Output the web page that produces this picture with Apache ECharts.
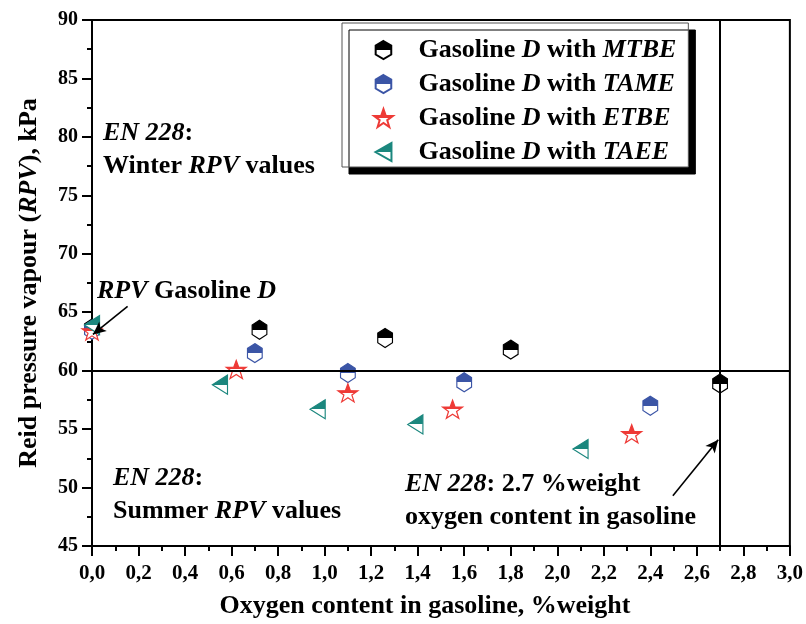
<!DOCTYPE html>
<html>
<head>
<meta charset="utf-8">
<script src="https://cdn.jsdelivr.net/npm/echarts@6/dist/echarts.min.js"></script>
<style>
  html, body { margin: 0; padding: 0; background: #fff; }
  #chart { width: 806px; height: 624px; }
</style>
</head>
<body>
<div id="chart"></div>
<script>
// Oxygen content (%weight) and Reid vapour pressure (kPa) for each blend
const oxygenMTBE = [0, 0.72, 1.26, 1.80, 2.70];
const rpvMTBE    = [63.6, 63.5, 62.8, 61.8, 58.9];
const oxygenTAME = [0, 0.70, 1.10, 1.60, 2.40];
const rpvTAME    = [63.5, 61.5, 59.8, 59.0, 57.0];
const oxygenETBE = [0, 0.62, 1.10, 1.55, 2.32];
const rpvETBE    = [63.4, 60.1, 58.1, 56.7, 54.6];
const oxygenTAEE = [0, 0.55, 0.97, 1.39, 2.10];
const rpvTAEE    = [63.9, 58.8, 56.7, 55.4, 53.3];

const additives = ['MTBE', 'TAME', 'ETBE', 'TAEE'];
const xTickValues = [0, 0.2, 0.4, 0.6, 0.8, 1.0, 1.2, 1.4, 1.6, 1.8, 2.0, 2.2, 2.4, 2.6, 2.8, 3.0];
const yTickValues = [45, 50, 55, 60, 65, 70, 75, 80, 85, 90];

// EN 228 limits
const summerRpvLimit = 60;
const oxygenLimit = 2.7;

const FONT = 'Liberation Serif';

function halfFill(color) {
  return {
    type: 'linear', x: 0, y: 0, x2: 0, y2: 1,
    colorStops: [
      { offset: 0, color: color },
      { offset: 0.5, color: color },
      { offset: 0.5, color: '#ffffff' },
      { offset: 1, color: '#ffffff' }
    ]
  };
}

const HEXAGON = 'path://M0,-10 L8.66,-5 L8.66,5 L0,10 L-8.66,5 L-8.66,-5 Z';
const STAR = 'path://M0,-10 L2.35,-3.24 L9.51,-3.09 L3.8,1.24 L5.88,8.09 L0,4 L-5.88,8.09 L-3.8,1.24 L-9.51,-3.09 L-2.35,-3.24 Z';
const LEFT_TRIANGLE = 'path://M0,9 L16,0 L16,18 Z';

const styles = {
  MTBE: { color: '#000000', symbol: HEXAGON, size: [17, 19] },
  TAME: { color: '#3b55a6', symbol: HEXAGON, size: [17, 19] },
  ETBE: { color: '#ee3a36', symbol: STAR, size: [20, 19] },
  TAEE: { color: '#1b877e', symbol: LEFT_TRIANGLE, size: [17, 19] }
};

const seriesData = {
  MTBE: [oxygenMTBE, rpvMTBE],
  TAME: [oxygenTAME, rpvTAME],
  ETBE: [oxygenETBE, rpvETBE],
  TAEE: [oxygenTAEE, rpvTAEE]
};

function pairs(xs, ys) { return xs.map((x, i) => [x, ys[i]]); }

const series = additives.map(a => ({
  name: 'Gasoline D with ' + a,
  type: 'scatter',
  data: pairs(seriesData[a][0], seriesData[a][1]),
  symbol: styles[a].symbol,
  symbolSize: styles[a].size,
  symbolKeepAspect: true,
  itemStyle: {
    color: halfFill(styles[a].color),
    borderColor: styles[a].color,
    borderWidth: 1.2,
    opacity: 1
  },
  emphasis: { disabled: true },
  z: 3
}));

// Reference limits and annotation arrows
series.push({
  type: 'scatter',
  data: [],
  silent: true,
  markLine: {
    silent: true,
    symbol: ['none', 'none'],
    label: { show: false },
    lineStyle: { color: '#000', width: 2, type: 'solid' },
    emphasis: { disabled: true },
    data: [{ yAxis: summerRpvLimit }, { xAxis: oxygenLimit }]
  }
});
series.push({
  type: 'scatter',
  data: [],
  silent: true,
  markLine: {
    silent: true,
    symbol: ['none', 'arrow'],
    symbolSize: [9, 13],
    label: { show: false },
    lineStyle: { color: '#000', width: 1.6, type: 'solid' },
    emphasis: { disabled: true },
    data: [
      [{ coord: [0.153, 65.5] }, { coord: [0.004, 63.1] }],
      [{ coord: [2.497, 49.3] }, { coord: [2.692, 54.1] }]
    ]
  }
});

const txtRich = {
  r: { fontFamily: FONT, fontWeight: 'bold', fontSize: 26, color: '#000', lineHeight: 33 },
  i: { fontFamily: FONT, fontWeight: 'bold', fontStyle: 'italic', fontSize: 26, color: '#000', lineHeight: 33 }
};

function note(left, top, text) {
  return { type: 'text', left: left, top: top, z: 10, silent: true,
           style: { text: text, rich: txtRich, fill: '#000' } };
}

const option = {
  animation: false,
  backgroundColor: '#ffffff',
  grid: {
    left: 92, right: 16, top: 20, bottom: 77,
    show: true, borderColor: '#000', borderWidth: 2, backgroundColor: 'transparent'
  },
  legend: {
    orient: 'vertical',
    left: 342, top: 23,
    padding: [14, 12, 2, 31],
    itemGap: 8,
    itemWidth: 60,
    itemHeight: 18,
    backgroundColor: '#ffffff',
    borderColor: '#555',
    borderWidth: 1,
    shadowColor: '#000',
    shadowBlur: 0,
    shadowOffsetX: 7,
    shadowOffsetY: 7,
    selectedMode: false,
    data: additives.map(a => 'Gasoline D with ' + a),
    formatter: name => '{r|Gasoline }{i|D}{r| with }{i|' + name.split(' ').pop() + '}',
    textStyle: { rich: {
      r: { fontFamily: FONT, fontWeight: 'bold', fontSize: 26, color: '#000', lineHeight: 26 },
      i: { fontFamily: FONT, fontWeight: 'bold', fontStyle: 'italic', fontSize: 26, color: '#000', lineHeight: 26 }
    } }
  },
  xAxis: {
    type: 'value',
    min: xTickValues[0],
    max: xTickValues[xTickValues.length - 1],
    interval: 0.2,
    name: 'Oxygen content in gasoline, %weight',
    nameLocation: 'middle',
    nameGap: 47,
    nameTextStyle: { fontFamily: FONT, fontWeight: 'bold', fontSize: 26, color: '#000', padding: [0, 32, 0, 0] },
    axisLine: { show: true, onZero: false, lineStyle: { color: '#000', width: 2 } },
    axisTick: { show: true, inside: false, length: 10, lineStyle: { color: '#000', width: 2 } },
    minorTick: { show: true, splitNumber: 2, length: 5, lineStyle: { color: '#000', width: 2 } },
    splitLine: { show: false },
    axisLabel: {
      margin: 17,
      fontFamily: FONT, fontWeight: 'bold', fontSize: 21, color: '#000',
      formatter: v => v.toFixed(1).replace('.', ',')
    }
  },
  yAxis: {
    type: 'value',
    min: yTickValues[0],
    max: yTickValues[yTickValues.length - 1],
    interval: 5,
    name: '{r|Reid pressure vapour (}{i|RPV}{r|), kPa}',
    nameLocation: 'middle',
    nameGap: 50,
    nameTextStyle: { rich: {
      r: { fontFamily: FONT, fontWeight: 'bold', fontSize: 26, color: '#000' },
      i: { fontFamily: FONT, fontWeight: 'bold', fontStyle: 'italic', fontSize: 26, color: '#000' }
    } },
    axisLine: { show: true, onZero: false, lineStyle: { color: '#000', width: 2 } },
    axisTick: { show: true, inside: false, length: 10, lineStyle: { color: '#000', width: 2 } },
    minorTick: { show: true, splitNumber: 2, length: 5, lineStyle: { color: '#000', width: 2 } },
    splitLine: { show: false },
    axisLabel: { margin: 14, fontFamily: FONT, fontWeight: 'bold', fontSize: 20, color: '#000' }
  },
  graphic: [
    note(103, 120, '{i|EN 228}{r|:}\n{r|Winter }{i|RPV}{r| values}'),
    note(97, 278, '{i|RPV}{r| Gasoline }{i|D}'),
    note(113, 465, '{i|EN 228}{r|:}\n{r|Summer }{i|RPV}{r| values}'),
    note(405, 471, '{i|EN 228}{r|: 2.7 %weight}\n{r|oxygen content in gasoline}')
  ],
  series: series
};

const chart = echarts.init(document.getElementById('chart'), null, { renderer: 'canvas' });
chart.setOption(option);
</script>
</body>
</html>
